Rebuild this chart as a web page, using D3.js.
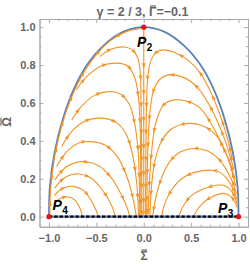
<!DOCTYPE html>
<html>
<head>
<meta charset="utf-8">
<script src="https://cdn.jsdelivr.net/npm/d3@7"></script>
<style>
body { margin: 0; background: #fff; }
text { font-family: "Liberation Sans", Arial, sans-serif; }
</style>
</head>
<body>
<script>
var width = 250, height = 264;

var titleParts = ["\u03b3 = 2 / 3, ", "\u0393", "=\u22120.1"];
var xTicks = [-1, -0.5, 0, 0.5, 1];
var yTicks = [0, 0.2, 0.4, 0.6, 0.8, 1];
var xMinor = [-1.1, -0.9, -0.8, -0.7, -0.6, -0.4, -0.3, -0.2, -0.1, 0.1, 0.2, 0.3, 0.4, 0.6, 0.7, 0.8, 0.9, 1.1];
var yMinor = [0.05, 0.1, 0.15, 0.25, 0.3, 0.35, 0.45, 0.5, 0.55, 0.65, 0.7, 0.75, 0.85, 0.9, 0.95];

// blue boundary
var edgeSigma = [-1, -0.99, -0.94, -0.85, -0.74, -0.6, -0.43, -0.22, 0, 0.22, 0.43, 0.6, 0.74, 0.85, 0.94, 0.99, 1];
var edgeOmega = [0, 0.16, 0.34, 0.52, 0.67, 0.8, 0.9, 0.975, 1, 0.975, 0.9, 0.8, 0.67, 0.52, 0.34, 0.16, 0];

var fixedPoints = [
  {sub: "2", s: 0, o: 1},
  {sub: "3", s: 1, o: 0},
  {sub: "4", s: -1, o: 0}
];

// streamlines, each from start to end as [sigma, omega]
var rimStream = [[-0.99,0.01],[-0.988,0.1],[-0.972,0.2],[-0.935,0.33],[-0.868,0.475],[-0.782,0.605],[-0.662,0.735],[-0.508,0.85],[-0.348,0.93],[-0.19,0.975],[-0.03,0.993]];
var centreStream = [[0,1],[0,0.5],[0,0]];

var leftStreams = [
  [[-0.46,0.845],[-0.38,0.876],[-0.28,0.893],[-0.2,0.895],[-0.12,0.88],[-0.065,0.84],[-0.038,0.77],[-0.028,0.6],[-0.022,0.3],[-0.02,0]],
  [[-0.71,0.67],[-0.6,0.74],[-0.45,0.795],[-0.285,0.81],[-0.17,0.795],[-0.1,0.74],[-0.06,0.65],[-0.04,0.5],[-0.032,0.25],[-0.03,0]],
  [[-0.76,0.51],[-0.66,0.58],[-0.52,0.64],[-0.374,0.66],[-0.24,0.645],[-0.15,0.59],[-0.095,0.49],[-0.06,0.35],[-0.045,0.15],[-0.042,0]],
  [[-0.866,0.37],[-0.76,0.45],[-0.62,0.505],[-0.46,0.52],[-0.3,0.5],[-0.19,0.44],[-0.12,0.33],[-0.075,0.18],[-0.058,0.05],[-0.055,0]],
  [[-0.92,0.265],[-0.8,0.35],[-0.68,0.39],[-0.55,0.396],[-0.4,0.375],[-0.27,0.31],[-0.17,0.2],[-0.11,0.09],[-0.085,0.02],[-0.08,0]],
  [[-0.937,0.194],[-0.83,0.258],[-0.72,0.285],[-0.62,0.29],[-0.48,0.27],[-0.35,0.21],[-0.24,0.12],[-0.17,0.04],[-0.15,0]],
  [[-0.94,0.15],[-0.85,0.2],[-0.76,0.222],[-0.68,0.225],[-0.56,0.205],[-0.45,0.15],[-0.36,0.08],[-0.31,0.02],[-0.3,0]],
  [[-0.945,0.11],[-0.86,0.148],[-0.745,0.16],[-0.64,0.14],[-0.56,0.09],[-0.5,0.03],[-0.48,0]],
  [[-0.94,0.075],[-0.87,0.098],[-0.8,0.105],[-0.72,0.085],[-0.67,0.04],[-0.645,0]]
];

var rightStreams = [
  [[0.935,0.3],[0.9,0.38],[0.85,0.47],[0.78,0.57],[0.7,0.665],[0.6,0.755],[0.47,0.825],[0.33,0.865],[0.21,0.88],[0.14,0.87],[0.08,0.83],[0.045,0.75],[0.03,0.6],[0.022,0.3],[0.02,0]],
  [[0.95,0.25],[0.91,0.32],[0.86,0.4],[0.78,0.5],[0.69,0.59],[0.57,0.68],[0.42,0.735],[0.26,0.748],[0.17,0.725],[0.1,0.66],[0.06,0.52],[0.038,0.25],[0.032,0]],
  [[0.96,0.2],[0.91,0.285],[0.84,0.36],[0.74,0.465],[0.6,0.57],[0.45,0.61],[0.31,0.615],[0.21,0.59],[0.13,0.5],[0.08,0.33],[0.055,0.12],[0.045,0]],
  [[0.97,0.16],[0.93,0.24],[0.87,0.33],[0.78,0.42],[0.62,0.48],[0.43,0.49],[0.3,0.465],[0.2,0.41],[0.12,0.3],[0.08,0.15],[0.065,0]],
  [[0.978,0.12],[0.94,0.18],[0.88,0.24],[0.8,0.3],[0.68,0.345],[0.54,0.36],[0.38,0.34],[0.26,0.28],[0.17,0.18],[0.115,0.07],[0.095,0]],
  [[0.983,0.09],[0.94,0.15],[0.87,0.205],[0.8,0.235],[0.72,0.245],[0.55,0.235],[0.4,0.2],[0.28,0.13],[0.21,0.05],[0.19,0]],
  [[0.987,0.065],[0.94,0.125],[0.87,0.16],[0.79,0.167],[0.65,0.15],[0.5,0.11],[0.41,0.05],[0.37,0]],
  [[0.99,0.045],[0.94,0.095],[0.88,0.118],[0.84,0.123],[0.72,0.105],[0.6,0.06],[0.54,0.015],[0.525,0]]
];

var orange = "#f29424", blue = "#5e81b5", grey = "#666";

var x = d3.scaleLinear().domain([-1.1, 1.1]).range([39.5, 248]);
var y = d3.scaleLinear().domain([-0.053, 1.043]).range([226.7, 19]);

var svg = d3.select("body").append("svg")
  .attr("width", width).attr("height", height);

// frame and ticks
function styleAxis(g) {
  g.select(".domain").attr("stroke", "#aaa");
  g.selectAll(".tick line").attr("stroke", "#aaa");
  g.selectAll(".tick text").attr("fill", grey).attr("font-size", "11px")
    .attr("font-weight", "bold").attr("font-family", "Liberation Sans, Arial, sans-serif");
}
var fmt = d3.format(".1f");

svg.append("g").attr("transform", "translate(0," + y(-0.053) + ")")
  .call(d3.axisBottom(x).tickValues(xTicks).tickFormat(fmt).tickSize(-4).tickSizeOuter(0).tickPadding(8))
  .call(styleAxis);
svg.append("g").attr("transform", "translate(0," + y(-0.053) + ")")
  .call(d3.axisBottom(x).tickValues(xMinor).tickFormat("").tickSize(-2).tickSizeOuter(0))
  .call(styleAxis);
svg.append("g").attr("transform", "translate(" + x(-1.1) + ",0)")
  .call(d3.axisLeft(y).tickValues(yTicks).tickFormat(fmt).tickSize(-4).tickSizeOuter(0).tickPadding(4))
  .call(styleAxis);
svg.append("g").attr("transform", "translate(" + x(-1.1) + ",0)")
  .call(d3.axisLeft(y).tickValues(yMinor).tickFormat("").tickSize(-2).tickSizeOuter(0))
  .call(styleAxis);
svg.append("g").attr("transform", "translate(0," + y(1.043) + ")")
  .call(d3.axisTop(x).tickValues(xTicks).tickFormat("").tickSize(-4).tickSizeOuter(0))
  .call(styleAxis);
svg.append("g").attr("transform", "translate(0," + y(1.043) + ")")
  .call(d3.axisTop(x).tickValues(xMinor).tickFormat("").tickSize(-2).tickSizeOuter(0))
  .call(styleAxis);
svg.append("g").attr("transform", "translate(" + x(1.1) + ",0)")
  .call(d3.axisRight(y).tickValues(yTicks).tickFormat("").tickSize(-4).tickSizeOuter(0))
  .call(styleAxis);
svg.append("g").attr("transform", "translate(" + x(1.1) + ",0)")
  .call(d3.axisRight(y).tickValues(yMinor).tickFormat("").tickSize(-2).tickSizeOuter(0))
  .call(styleAxis);

// draws a bar over a glyph box
function overbar(g, box) {
  g.append("line")
    .attr("x1", box.x + 1).attr("x2", box.x + box.width - 0.5)
    .attr("y1", box.y + 1).attr("y2", box.y + 1)
    .attr("stroke", grey).attr("stroke-width", 1.2);
}

// title and axis labels
var titleText = svg.append("text").attr("x", 142.5).attr("y", 16)
  .attr("text-anchor", "middle").attr("font-size", "12.5px").attr("font-weight", "bold")
  .attr("fill", grey);
titleParts.forEach(function(s) { titleText.append("tspan").text(s); });
var gi = titleParts[0].length;
var gBox = titleText.node().getExtentOfChar(gi);
overbar(svg, {x: gBox.x, y: gBox.y, width: gBox.width});

var sLab = svg.append("g");
var sText = sLab.append("text").attr("x", 144).attr("y", 260)
  .attr("text-anchor", "middle").attr("font-size", "12px").attr("font-weight", "bold")
  .attr("fill", grey).text("\u03a3");
var sBox = sText.node().getExtentOfChar(0);
overbar(sLab, {x: sBox.x, y: sBox.y, width: sBox.width});

var oLab = svg.append("g").attr("transform", "translate(11,122) rotate(-90)");
var oText = oLab.append("text")
  .attr("text-anchor", "middle").attr("font-size", "12px").attr("font-weight", "bold")
  .attr("fill", grey).text("\u03a9");
var oBox = oText.node().getExtentOfChar(0);
overbar(oLab, {x: oBox.x, y: oBox.y, width: oBox.width});

// boundary curve
var edge = edgeSigma.map(function(s, i) { return [s, edgeOmega[i]]; });
var line = d3.line().x(function(d) { return x(d[0]); }).y(function(d) { return y(d[1]); });
var smooth = d3.line().x(function(d) { return x(d[0]); }).y(function(d) { return y(d[1]); })
  .curve(d3.curveCatmullRom.alpha(0.5));

svg.append("path").attr("d", smooth(edge))
  .attr("fill", "none").attr("stroke", blue).attr("stroke-width", 1.8);

// streamlines with arrow heads
var streams = [rimStream, centreStream].concat(leftStreams, rightStreams);
var streamGroup = svg.append("g");
streams.forEach(function(pts) {
  var p = streamGroup.append("path").attr("d", smooth(pts))
    .attr("fill", "none").attr("stroke", orange).attr("stroke-width", 1.1);
  var node = p.node();
  var len = node.getTotalLength();
  for (var d = 11; d < len - 4; d += 27) {
    var a = node.getPointAtLength(d), b = node.getPointAtLength(d + 1);
    var ang = Math.atan2(b.y - a.y, b.x - a.x) * 180 / Math.PI;
    streamGroup.append("path").attr("d", "M3,0L-2.4,-2.1L-1.3,0L-2.4,2.1Z")
      .attr("fill", orange)
      .attr("transform", "translate(" + a.x + "," + a.y + ") rotate(" + ang + ")");
  }
});

// Omega = 0 line
svg.append("path").attr("d", line([[-1, 0], [1, 0]]))
  .attr("stroke", blue).attr("stroke-width", 2.2);
svg.append("path").attr("d", line([[-1, 0], [1, 0]]))
  .attr("stroke", "#000").attr("stroke-width", 2.2).attr("stroke-dasharray", "3.3,2");

// fixed points
svg.selectAll(".fp").data(fixedPoints).enter().append("circle")
  .attr("class", "fp")
  .attr("cx", function(d) { return x(d.s); })
  .attr("cy", function(d) { return y(d.o); })
  .attr("r", 2.7).attr("fill", "#e8141b");

var labelPos = {"2": [137, 46.5], "3": [218, 213], "4": [52.5, 210]};
fixedPoints.forEach(function(d) {
  var t = svg.append("text").attr("x", labelPos[d.sub][0]).attr("y", labelPos[d.sub][1])
    .attr("font-size", "14px").attr("font-weight", "bold").attr("fill", "#000");
  t.append("tspan").attr("font-style", "italic").text("P");
  t.append("tspan").attr("font-size", "10px").attr("dy", 4).attr("dx", 0.5).text(d.sub);
});
</script>
</body>
</html>
